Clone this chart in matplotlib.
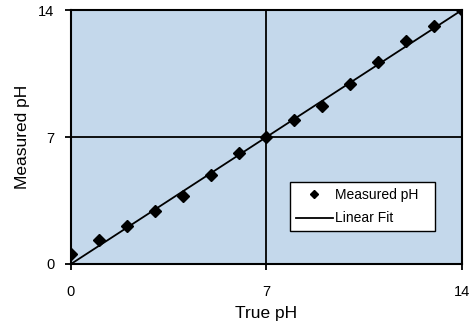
import matplotlib
matplotlib.use('Agg')
import matplotlib.pyplot as plt
import numpy as np

plt.rcParams['font.family'] = ['Liberation Sans', 'DejaVu Sans']

# data
true_ph = [0, 1, 2, 3, 4, 5, 6, 7, 8, 9, 10, 11, 12, 13, 14]
measured_ph = [0.53, 1.32, 2.12, 2.92, 3.75, 4.9, 6.1, 7.02, 7.94, 8.71, 9.92, 11.15, 12.31, 13.14, 14.0]
fit_x = [0, 14]
fit_y = [0, 14]
ticks = [0, 7, 14]

fig = plt.figure(figsize=(4.72, 3.26), dpi=100)
ax = fig.add_axes([0.1504, 0.1902, 0.8284, 0.7791])
ax.set_facecolor('#c4d8eb')

ax.axvline(7, color='black', linewidth=1.3, zorder=1)
ax.axhline(7, color='black', linewidth=1.3, zorder=1)

ax.plot(true_ph, measured_ph, linestyle='none', marker='D', markersize=6,
        color='black', label='Measured pH', zorder=3)
ax.plot(fit_x, fit_y, color='black', linewidth=1.3, label='Linear Fit', zorder=2)

ax.set_xlim(0, 14)
ax.set_ylim(0, 14)
ax.set_xticks(ticks)
ax.set_yticks(ticks)
ax.tick_params(direction='out', length=4, width=1.3, labelsize=10.5, colors='black')
ax.tick_params(axis='x', pad=11)
ax.tick_params(axis='y', pad=8)
for sp in ax.spines.values():
    sp.set_linewidth(1.5)
    sp.set_color('black')

ax.set_xlabel('True pH', fontsize=12.5, labelpad=5)
ax.set_ylabel('Measured pH', fontsize=12.5, labelpad=6)

leg = ax.legend(loc='lower left', bbox_to_anchor=(0.56, 0.13, 0.372, 0.18),
                mode='expand', borderaxespad=0, frameon=True, fancybox=False,
                fontsize=10, handlelength=2.7, handletextpad=0.15,
                borderpad=0.4, labelspacing=0.7, markerscale=0.7)
leg.get_frame().set_edgecolor('black')
leg.get_frame().set_linewidth(1.0)
leg.get_frame().set_facecolor('white')
leg.get_frame().set_alpha(1)

plt.savefig('out.png', dpi=100)
plt.close()
